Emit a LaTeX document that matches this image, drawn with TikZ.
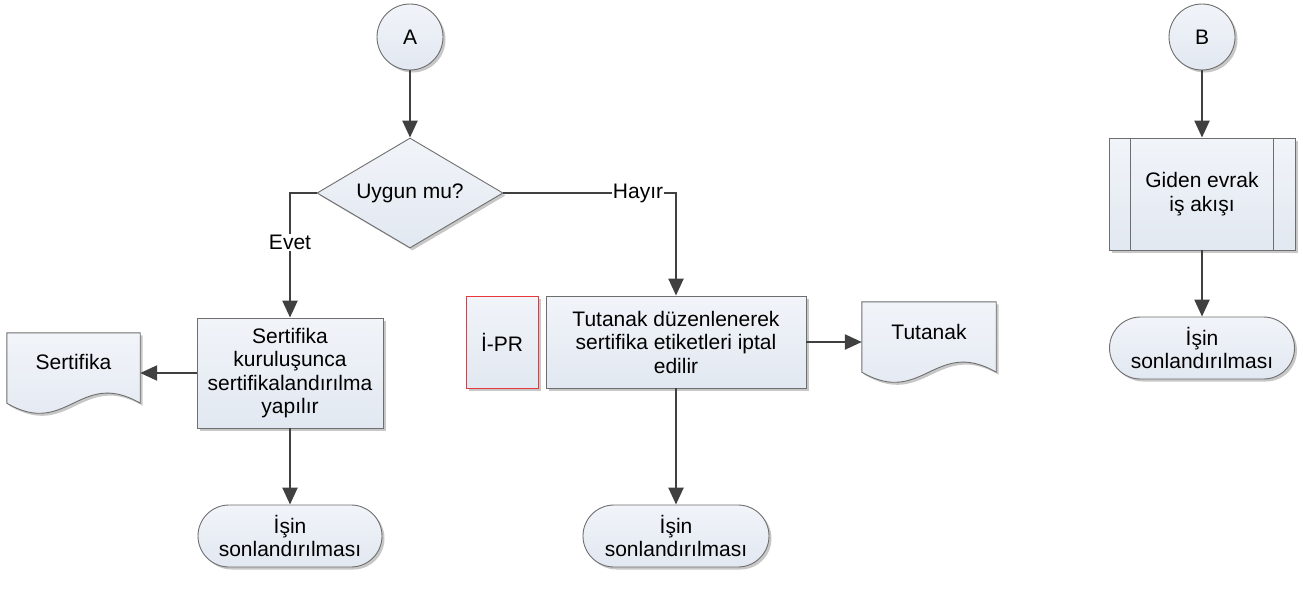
\documentclass[tikz,border=0pt]{standalone}
\usepackage{fontspec}
\setmainfont{Liberation Sans}
\usetikzlibrary{shapes.geometric,arrows.meta,shadows,calc}
\definecolor{boxtop}{HTML}{F1F4F9}
\definecolor{boxbot}{HTML}{E2E8F1}
\definecolor{boxline}{HTML}{6E6E6E}
\definecolor{arrowcol}{HTML}{404040}
\definecolor{redline}{HTML}{E8383D}
\begin{document}
\begin{tikzpicture}[x=1pt,y=-1pt,
  font=\fontsize{21}{23.5}\selectfont,
  base/.style={draw=boxline, line width=0.9pt, top color=boxtop, bottom color=boxbot,
    drop shadow={shadow xshift=2.5pt,shadow yshift=-2.5pt,opacity=0.22,fill=black},
    inner sep=0pt, align=center},
  proc/.style={base, rectangle},
  term/.style={base, rectangle, rounded corners=31pt, minimum height=62pt},
  conn/.style={base, circle, minimum size=66pt},
  decis/.style={base, diamond, aspect=1.69, minimum width=186pt, minimum height=110pt},
  docbox/.style={rectangle, inner sep=0pt},
  docline/.style={draw=boxline, line width=0.9pt, top color=boxtop, bottom color=boxbot,
    drop shadow={shadow xshift=2.5pt,shadow yshift=-2.5pt,opacity=0.22,fill=black}},
  flow/.style={draw=arrowcol, line width=2.4pt, -{Triangle[length=17pt,width=15pt]}},
  lbl/.style={fill=white, inner sep=1pt}
]
\useasboundingbox (0,0) rectangle (1303,589);

% left column
\node[conn] (A) at (410,37) {A};
\node[decis] (dia) at (410,193) {Uygun mu?};
\node[proc, minimum width=186pt, minimum height=110pt] (box1) at (290,373)
  {Sertifika\\kuruluşunca\\sertifikalandırılma\\yapılır};
\node[term, minimum width=184pt] (t1) at (290,536) {İşin\\sonlandırılması};

\node[docbox, minimum width=133pt, minimum height=70pt] (sd) at (73.5,368) {};
\path[docline] (sd.south west) -- (sd.north west) -- (sd.north east) -- (sd.south east)
  .. controls ($(sd.south west)+(73.15,-35)$) and ($(sd.south west)+(59.85,35)$) .. (sd.south west) -- cycle;
\node (sdt) at ($(sd.center)+(0,-6)$) {Sertifika};

% middle column
\node[proc, draw=redline, minimum width=72pt, minimum height=92pt] (ipr) at (502,342) {İ-PR};
\node[proc, minimum width=260pt, minimum height=92pt] (box2) at (676,342)
  {Tutanak düzenlenerek\\sertifika etiketleri iptal\\edilir};
\node[term, minimum width=186pt] (t2) at (676,536) {İşin\\sonlandırılması};

\node[docbox, minimum width=134pt, minimum height=70pt] (td) at (929,337) {};
\path[docline] (td.south west) -- (td.north west) -- (td.north east) -- (td.south east)
  .. controls ($(td.south west)+(73.7,-35)$) and ($(td.south west)+(60.3,35)$) .. (td.south west) -- cycle;
\node (tdt) at ($(td.center)+(0,-5)$) {Tutanak};

% right column
\node[conn] (B) at (1202,37) {B};
\node[proc, minimum width=186pt, minimum height=112pt] (sub) at (1202,194) {Giden evrak\\iş akışı};
\draw[draw=boxline, line width=0.9pt] ([xshift=22pt]sub.north west) -- ([xshift=22pt]sub.south west);
\draw[draw=boxline, line width=0.9pt] ([xshift=-22pt]sub.north east) -- ([xshift=-22pt]sub.south east);
\node[term, minimum width=185pt] (t3) at (1202,348) {İşin\\sonlandırılması};

% connectors
\draw[flow] (A) -- (dia);
\draw[flow] (dia.west) -| node[lbl, pos=0.7] (evet) {Evet} (box1.north);
\draw[flow] (dia.east) -| node[lbl, pos=0.39] (hayir) {Hayır} (box2.north);
\draw[flow] (box1.west) -- (box1.west -| sd.east);
\draw[flow] (box1) -- (t1);
\draw[flow] (box2.east) -- (box2.east -| td.west);
\draw[flow] (box2) -- (t2);
\draw[flow] (B) -- (sub);
\draw[flow] (sub) -- (t3);
\end{tikzpicture}
\end{document}
